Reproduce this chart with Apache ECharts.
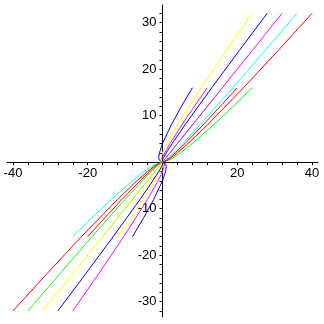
<!DOCTYPE html>
<html>
<head>
<meta charset="utf-8">
<script src="https://cdn.jsdelivr.net/npm/echarts@6/dist/echarts.min.js"></script>
<style>html,body{margin:0;padding:0;background:#fff}#c{width:324px;height:324px}</style>
</head>
<body>
<div id="c"></div>
<script>
// y levels of the traced points
const yUpLong = [0, 0.5, 1, 2, 4, 8, 16, 24, 32];
const yUpShort = [0, 0.5, 1, 2, 4, 8, 12, 16];
const yDownLong = [0, -0.5, -1, -2, -4, -8, -16, -24, -32];
const yDownShort = [0, -0.5, -1, -2, -4, -8, -12, -16];

// x positions read for each curve
const blueUpShort    = [0, -0.91, -1, -0.83, 0, 2.34, 5.07, 8];
const magentaUpShort = [0, -0.21, 0, 0.59, 2, 5.17, 8.54, 12];
const cyanUpShort    = [0, 0.5, 1, 2, 4, 8, 12, 16];
const redUpShort     = [0, 1.21, 2, 3.41, 6, 10.83, 15.46, 20];
const greenUpShort   = [0, 1.91, 3, 4.83, 8, 13.66, 18.93, 24];

const yellowUpLong  = [0, -0.5, -0.41, 0, 1.17, 4, 10.34, 17.07, 24];
const blueUpLong    = [0, 0, 0.29, 1, 2.59, 6, 13.17, 20.54, 28];
const magentaUpLong = [0, 0.5, 1, 2, 4, 8, 16, 24, 32];
const cyanUpLong    = [0, 1.0, 1.71, 3, 5.41, 10, 18.83, 27.46, 36];
const redUpLong     = [0, 1.5, 2.41, 4, 6.83, 12, 21.66, 30.93, 40];

const cyanDownShort   = [0, -1.91, -3, -4.83, -8, -13.66, -18.93, -24];
const redDownShort    = [0, -1.21, -2, -3.41, -6, -10.83, -15.46, -20];
const greenDownShort  = [0, -0.5, -1, -2, -4, -8, -12, -16];
const yellowDownShort = [0, 0.21, 0, -0.59, -2, -5.17, -8.54, -12];
const blueDownShort   = [0, 0.91, 1, 0.83, 0, -2.34, -5.07, -8];

const redDownLong     = [0, -1.5, -2.41, -4, -6.83, -12, -21.66, -30.93, -40];
const greenDownLong   = [0, -1, -1.71, -3, -5.41, -10, -18.83, -27.46, -36];
const yellowDownLong  = [0, -0.5, -1, -2, -4, -8, -16, -24, -32];
const blueDownLong    = [0, 0, -0.29, -1, -2.59, -6, -13.17, -20.54, -28];
const magentaDownLong = [0, 0.5, 0.41, 0, -1.17, -4, -10.34, -17.07, -24];

const xTickValues = [-40,-36,-32,-28,-24,-20,-16,-12,-8,-4,4,8,12,16,20,24,28,32,36,40];
const xLabelValues = [-40, -20, 20, 40];
const yTickValues = [-32,-30,-28,-26,-24,-22,-20,-18,-16,-14,-12,-10,-8,-6,-4,-2,2,4,6,8,10,12,14,16,18,20,22,24,26,28,30,32];
const yLabelValues = [-30, -20, -10, 10, 20, 30];

const RED='#ff0000', GREEN='#00ff00', YELLOW='#ffff00', BLUE='#0000ff', MAGENTA='#ff00ff', CYAN='#00ffff';

const curves = [
  [blueUpShort, yUpShort, BLUE],
  [magentaUpShort, yUpShort, MAGENTA],
  [cyanUpShort, yUpShort, CYAN],
  [redUpShort, yUpShort, RED],
  [greenUpShort, yUpShort, GREEN],
  [yellowUpLong, yUpLong, YELLOW],
  [blueUpLong, yUpLong, BLUE],
  [magentaUpLong, yUpLong, MAGENTA],
  [cyanUpLong, yUpLong, CYAN],
  [redUpLong, yUpLong, RED],
  [cyanDownShort, yDownShort, CYAN],
  [redDownShort, yDownShort, RED],
  [greenDownShort, yDownShort, GREEN],
  [yellowDownShort, yDownShort, YELLOW],
  [blueDownShort, yDownShort, BLUE],
  [redDownLong, yDownLong, RED],
  [greenDownLong, yDownLong, GREEN],
  [yellowDownLong, yDownLong, YELLOW],
  [blueDownLong, yDownLong, BLUE],
  [magentaDownLong, yDownLong, MAGENTA]
];

const series = curves.map(([xs, ys, color]) => ({
  type: 'line',
  data: xs.map((x, i) => [x, ys[i]]),
  showSymbol: false,
  symbol: 'none',
  silent: true,
  animation: false,
  lineStyle: { color: color, width: 1 },
  z: 2
}));

const labelFont = { color: '#000', fontSize: 13, fontFamily: 'Liberation Sans, Arial, sans-serif' };

// layout: plot box and axis ranges
const W = 324, H = 324;
const G = { left: 7, right: 6, top: 5, bottom: 7 };
const X_MIN = -41.6, X_MAX = 41.6, Y_MIN = -33.3, Y_MAX = 33.8;
// place the axes through the origin (offset from the grid edges)
const plotW = W - G.left - G.right, plotH = H - G.top - G.bottom;
const yAxisOffset = -plotW * (0 - X_MIN) / (X_MAX - X_MIN);
const xAxisOffset = -plotH * (0 - Y_MIN) / (Y_MAX - Y_MIN);

const chart = echarts.init(document.getElementById('c'), null, { renderer: 'canvas' });
chart.setOption({
  backgroundColor: '#fff',
  animation: false,
  grid: Object.assign({ containLabel: false, outerBoundsMode: 'none' }, G),
  xAxis: {
    type: 'value', min: X_MIN, max: X_MAX, position: 'bottom', offset: xAxisOffset,
    axisLine: { onZero: false, lineStyle: { color: '#000', width: 1 } },
    axisTick: { show: true, length: 3, customValues: xTickValues, lineStyle: { color: '#000' } },
    axisLabel: Object.assign({ customValues: xLabelValues, margin: 5, hideOverlap: false }, labelFont),
    splitLine: { show: false }
  },
  yAxis: {
    type: 'value', min: Y_MIN, max: Y_MAX, position: 'left', offset: yAxisOffset,
    axisLine: { onZero: false, lineStyle: { color: '#000', width: 1 } },
    axisTick: { show: true, length: 3, customValues: yTickValues, lineStyle: { color: '#000' } },
    axisLabel: Object.assign({ customValues: yLabelValues, margin: 6, hideOverlap: false }, labelFont),
    splitLine: { show: false }
  },
  series: series
});
</script>
</body>
</html>
